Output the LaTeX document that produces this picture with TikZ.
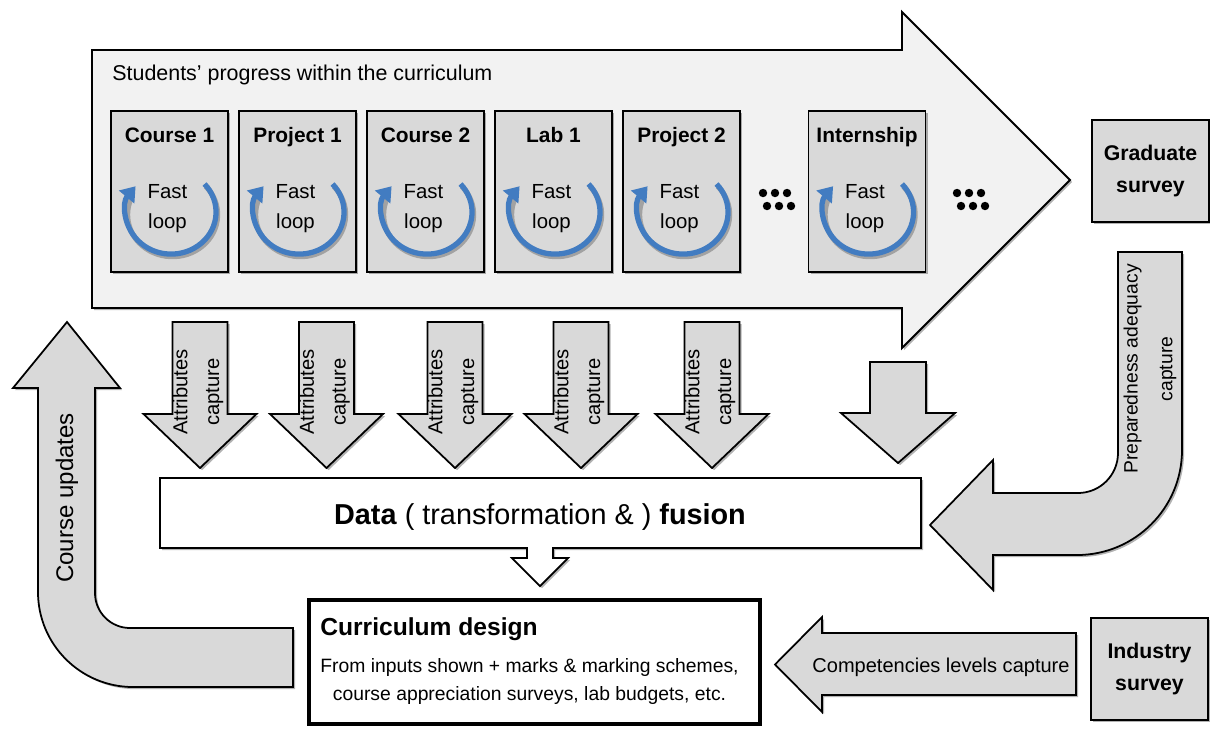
\documentclass[tikz,border=0pt]{standalone}
\usepackage{fontspec}
\setmainfont{Liberation Sans}
\usetikzlibrary{arrows.meta,shadows}

\definecolor{panelgray}{HTML}{F2F2F2}
\definecolor{boxgray}{HTML}{D9D9D9}
\definecolor{loopblue}{RGB}{66,124,193}

\tikzstyle{castshadow}=[drop shadow={shadow xshift=1.2pt,shadow yshift=-1.2pt,opacity=0.3,fill=black}]
\tikzstyle{stage}=[draw=black,fill=boxgray,line width=1.1pt,minimum width=2.34cm,minimum height=3.22cm,castshadow]
\tikzstyle{stagetitle}=[font=\fontsize{11.9}{14}\selectfont\bfseries,anchor=base,inner sep=0pt]
\tikzstyle{looptext}=[font=\fontsize{11.6}{17}\selectfont,align=center,anchor=north,inner sep=0pt]
\tikzstyle{loopline}=[draw=loopblue,line width=3pt,-{Triangle[length=8pt,width=11pt]}]
\tikzstyle{loopshadow}=[draw=black,opacity=0.25,line width=3pt]
\tikzstyle{survey}=[draw=black,fill=boxgray,line width=1.1pt,minimum width=2.34cm,minimum height=2.04cm,align=center,font=\fontsize{12.1}{18.7}\selectfont\bfseries,castshadow]
\tikzstyle{blockarrow}=[draw=black,fill=boxgray,line width=1pt,castshadow]
\tikzstyle{capturetext}=[font=\fontsize{11.5}{18}\selectfont,align=center,rotate=90,inner sep=0pt]

\newcommand{\stagebox}[3]{%
  \node[stage] (#1) at (#2,191.5) {};
  \node[stagetitle] (#1-title) at (#2,142) {#3};
  \node[looptext] (#1-loop) at (#2-2,184) {Fast\\loop};
  \draw[loopshadow] (#2+36.5,186.5) arc[start angle=-42,end angle=205,x radius=45,y radius=42];
  \draw[loopline] (#2+35,184) arc[start angle=-42,end angle=218,x radius=45,y radius=42];
}

\begin{document}
\begin{tikzpicture}[x=0.02cm,y=-0.02cm]
	\useasboundingbox (0,0) rectangle (1210,728);
	\draw[fill=panelgray,line width=1.1pt,castshadow] (92,50) -- ++(810,0) -- ++(0,-38) --
		++(168,168) -- ++(-168,168) -- ++(0,-40) -- ++(-810,0) -- cycle;
	\node[anchor=base west,font=\fontsize{12.2}{14}\selectfont,inner sep=0pt] (progress) at (112,80)
		{Students’ progress within the curriculum};

	\stagebox{course1}{169.5}{Course 1}
	\stagebox{project1}{297.5}{Project 1}
	\stagebox{course2}{425.5}{Course 2}
	\stagebox{lab1}{553.5}{Lab 1}
	\stagebox{project2}{681.5}{Project 2}
	\stagebox{intern}{867}{Internship}

	\fill (763,193) circle[radius=2.4pt] (775,193) circle[radius=2.4pt] (787,193) circle[radius=2.4pt]
		(767,206) circle[radius=2.4pt] (779,206) circle[radius=2.4pt] (791,206) circle[radius=2.4pt];
	\fill (957,193) circle[radius=2.4pt] (969,193) circle[radius=2.4pt] (981,193) circle[radius=2.4pt]
		(961,206) circle[radius=2.4pt] (973,206) circle[radius=2.4pt] (985,206) circle[radius=2.4pt];

	\node[survey] (graduate) at (1150.5,171) {Graduate\\survey};
	\node[survey] (industry) at (1149.5,669) {Industry\\survey};

	\draw[blockarrow] (172.5,322) -- ++(55,0) -- ++(0,92) -- ++(29,0) -- ++(-56.5,54) -- ++(-56.5,-54) -- ++(29,0) -- cycle;
	\draw[blockarrow] (299,322) -- ++(55,0) -- ++(0,92) -- ++(29,0) -- ++(-56.5,54) -- ++(-56.5,-54) -- ++(29,0) -- cycle;
	\draw[blockarrow] (427.5,322) -- ++(55,0) -- ++(0,92) -- ++(29,0) -- ++(-56.5,54) -- ++(-56.5,-54) -- ++(29,0) -- cycle;
	\draw[blockarrow] (553.5,322) -- ++(55,0) -- ++(0,92) -- ++(29,0) -- ++(-56.5,54) -- ++(-56.5,-54) -- ++(29,0) -- cycle;
	\draw[blockarrow] (684.5,322) -- ++(55,0) -- ++(0,92) -- ++(29,0) -- ++(-56.5,54) -- ++(-56.5,-54) -- ++(29,0) -- cycle;
	\node[capturetext] (attr1) at (198,392) {Attributes\\capture};
	\node[capturetext] (attr2) at (324.5,392) {Attributes\\capture};
	\node[capturetext] (attr3) at (453,392) {Attributes\\capture};
	\node[capturetext] (attr4) at (579,392) {Attributes\\capture};
	\node[capturetext] (attr5) at (710,392) {Attributes\\capture};
	\draw[blockarrow] (870,362) -- ++(56,0) -- ++(0,51) -- ++(29,0) -- ++(-57,50) -- ++(-57,-50) -- ++(29,0) -- cycle;

	\draw[fill=white,line width=1pt,castshadow] (160,478) -- (921,478) -- (921,548) -- (553,548) -- (553,558) --
		(568,558) -- (540,586) -- (512,558) -- (527,558) -- (527,548) -- (160,548) -- cycle;
	\node[font=\fontsize{16.4}{20}\selectfont] (fusion) at (540,517)
		{\textbf{Data} ( transformation \& ) \textbf{fusion}};

	\node[draw,line width=2.3pt,fill=white,minimum width=9.02cm,minimum height=2.48cm,castshadow] (design) at (534.5,662) {};
	\node[anchor=base west,font=\fontsize{14}{16}\selectfont\bfseries,inner sep=0pt] (designtitle) at (320,635) {Curriculum design};
	\node[anchor=north,align=center,font=\fontsize{11}{16}\selectfont,inner sep=0pt] (designbody) at (529.5,658)
		{From inputs shown + marks \& marking schemes,\\course appreciation surveys, lab budgets, etc.};

	\draw[blockarrow] (293,687) -- (133,687) arc[start angle=90,end angle=180,radius=95] -- (38,388) -- (13,388) --
		(67,322) -- (120,388) -- (95,388) -- (95,593) arc[start angle=180,end angle=90,radius=35] -- (293,628) -- cycle;
	\node[font=\fontsize{13.7}{16}\selectfont,rotate=90,inner sep=0pt] (updates) at (67,498) {Course updates};

	\draw[blockarrow] (1118,252) -- (1182,252) -- (1182,450) arc[start angle=0,end angle=90,radius=105] -- (993,555) --
		(993,590) -- (930,525) -- (993,460) -- (993,493) -- (1078,493) arc[start angle=90,end angle=0,radius=40] -- cycle;
	\node[font=\fontsize{11}{19.8}\selectfont,align=center,rotate=90,inner sep=0pt] (preparedness) at (1150,369)
		{Preparedness adequacy\\capture};

	\draw[blockarrow] (1076,633) -- (1076,695) -- (822,695) -- (822,712) -- (775,664.5) -- (822,617) -- (822,633) -- cycle;
	\node[font=\fontsize{11.4}{14}\selectfont,inner sep=0pt] (competencies) at (941,667) {Competencies levels capture};
\end{tikzpicture}
\end{document}
